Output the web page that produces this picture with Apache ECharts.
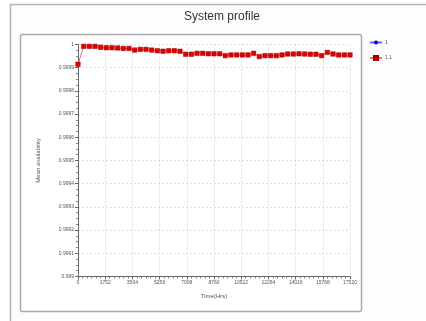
<!DOCTYPE html>
<html>
<head>
<meta charset="utf-8">
<script src="https://cdn.jsdelivr.net/npm/echarts@6/dist/echarts.min.js"></script>
<style>
  html, body { margin: 0; padding: 0; background: #ffffff; }
  #chart { width: 426px; height: 321px; }
</style>
</head>
<body>
<div id="chart"></div>
<script>
// Sampling step in hours (two years split into 48 steps)
const timeStep = 365;
// Mean availability of configuration "1.1" at each sample time
const availability11 = [
  0.999915,
  0.999992, 0.999992, 0.999992, 0.999988, 0.999986, 0.999986, 0.999985, 0.999983,
  0.999983, 0.999976, 0.999979, 0.999979, 0.999976, 0.999973, 0.999971, 0.999973,
  0.999973, 0.999971, 0.999958, 0.999958, 0.999962, 0.999962, 0.999960, 0.999960,
  0.999960, 0.999952, 0.999955, 0.999955, 0.999955, 0.999955, 0.999962, 0.999948,
  0.999952, 0.999952, 0.999952, 0.999955, 0.999959, 0.999959, 0.999960, 0.999959,
  0.999958, 0.999958, 0.999952, 0.999966, 0.999959, 0.999955, 0.999955, 0.999955
];
// Configuration "1" has no samples plotted
const availability1 = [];
// Axis tick values
const xTicks = [0, 1752, 3504, 5256, 7008, 8760, 10512, 12264, 14016, 15768, 17520];
const yTicks = [0.999, 0.9991, 0.9992, 0.9993, 0.9994, 0.9995, 0.9996, 0.9997, 0.9998, 0.9999, 1];

const pairs = (vals) => vals.map((v, i) => [i * timeStep, v]);

const chart = echarts.init(document.getElementById('chart'), null, { renderer: 'canvas' });
const font = 'Liberation Sans, Arial, sans-serif';

chart.setOption({
  backgroundColor: '#ffffff',
  animation: false,
  textStyle: { fontFamily: font },
  graphic: [
    { type: 'rect', shape: { x: 10.5, y: 4.5, width: 430, height: 330 },
      style: { fill: '#fdfdfd', stroke: '#b4b4b4', lineWidth: 1.5 }, z: -10 },
    { type: 'rect', shape: { x: 20.5, y: 34.5, width: 341, height: 277, r: 2 },
      style: { fill: '#ffffff', stroke: '#aaaaaa', lineWidth: 1.5 }, z: -9 },
    { type: 'text', x: 222, y: 17,
      style: { text: 'System profile', fill: '#333333', font: '12px ' + font,
               textAlign: 'center', textVerticalAlign: 'middle' } }
  ],
  legend: {
    orient: 'vertical',
    left: 364, top: 35,
    itemWidth: 12, itemHeight: 5, itemGap: 10,
    textStyle: { fontSize: 5, color: '#555555', fontFamily: font, padding: [0, 0, 0, -2] },
    data: ['1', '1.1']
  },
  grid: { left: 78, right: 76, top: 44.5, bottom: 44.5, containLabel: false },
  xAxis: {
    type: 'value',
    min: xTicks[0], max: xTicks[xTicks.length - 1], interval: xTicks[1] - xTicks[0],
    name: 'Time(Hrs)', nameLocation: 'middle', nameGap: 17,
    nameTextStyle: { fontSize: 6, color: '#555555' },
    axisLine: { lineStyle: { color: '#666666', width: 1 } },
    axisTick: { show: true, length: 3, lineStyle: { color: '#666666' } },
    minorTick: { show: true, splitNumber: 6, length: 2, lineStyle: { color: '#888888' } },
    axisLabel: { fontSize: 5, color: '#555555', margin: 4, formatter: (v) => String(v) },
    splitLine: { show: true, lineStyle: { color: '#dddddd', type: [2, 2], width: 1 } }
  },
  yAxis: {
    type: 'value',
    min: yTicks[0], max: yTicks[yTicks.length - 1], interval: 0.0001,
    name: 'Mean availability', nameLocation: 'middle', nameGap: 37,
    nameTextStyle: { fontSize: 6, color: '#555555' },
    axisLine: { show: true, lineStyle: { color: '#666666', width: 1 } },
    axisTick: { show: true, length: 3, lineStyle: { color: '#666666' } },
    minorTick: { show: true, splitNumber: 4, length: 2, lineStyle: { color: '#888888' } },
    axisLabel: { fontSize: 5, color: '#555555', margin: 4,
                 formatter: (v) => String(+v.toFixed(4)) },
    splitLine: { show: true, lineStyle: { color: '#dddddd', type: [2, 2], width: 1 } }
  },
  series: [
    {
      name: '1', type: 'line', data: pairs(availability1),
      symbol: 'circle', symbolSize: 5,
      itemStyle: { color: '#0000cc' },
      lineStyle: { color: '#6666ff', width: 1 }
    },
    {
      name: '1.1', type: 'line', data: pairs(availability11),
      symbol: 'rect', symbolSize: 4.5, showAllSymbol: true,
      itemStyle: { color: '#e00000', borderColor: '#a00000', borderWidth: 0.5 },
      lineStyle: { color: '#f07070', width: 1 }
    }
  ]
});
</script>
</body>
</html>
